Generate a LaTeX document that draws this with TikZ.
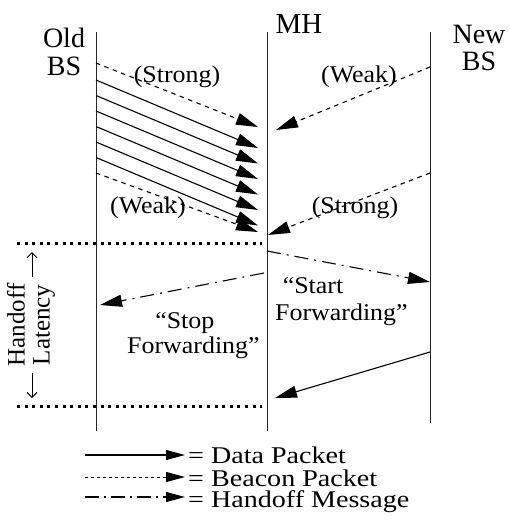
\documentclass[tikz,border=0pt]{standalone}
\usepackage{fontspec}
\setmainfont{Liberation Serif}
\usetikzlibrary{arrows.meta}
\tikzset{
  lbl/.style={font=\fontsize{24}{26}\selectfont, inner sep=0pt, xscale=1.08},
  leg/.style={font=\fontsize{24}{24}\selectfont, inner sep=0pt, xscale=1.17, text depth=0pt, text height=16.5pt},
  hdr/.style={font=\fontsize{28}{28}\selectfont, inner sep=0pt, align=center},
  life/.style={line width=0.9pt, black!85},
  tip/.style={-{Triangle[length=22pt,width=12pt]}},
  ltip/.style={-{Triangle[length=19pt,width=10pt]}},
  data/.style={tip, line width=1.1pt},
  beacon/.style={tip, line width=1.1pt, dash pattern=on 4.5pt off 4.5pt},
  lbeacon/.style={ltip, line width=1pt, dash pattern=on 2.5pt off 3.5pt},
  handoff/.style={tip, line width=1.1pt, dash pattern=on 14pt off 6pt on 2pt off 6pt},
  lhandoff/.style={ltip, line width=1.1pt, dash pattern=on 14pt off 5pt on 2pt off 5pt},
  thickdot/.style={line width=3pt, dash pattern=on 3pt off 4.6pt},
  latarrow/.style={-{Straight Barb[length=5pt,width=10pt]}, line width=0.9pt}
}
\begin{document}
\begin{tikzpicture}[x=1pt,y=-1pt]
\useasboundingbox (0,0) rectangle (509,525);
% lifelines
\coordinate (oldT) at (96,32); \coordinate (oldB) at (96,431);
\coordinate (mhT) at (267,32); \coordinate (mhB) at (267,431);
\coordinate (newT) at (430,32); \coordinate (newB) at (430,423);
\draw[life] (oldT) -- (oldB);
\draw[life] (mhT) -- (mhB);
\draw[life] (newT) -- (newB);
% headers (base anchor = last line's baseline)
\node[hdr, anchor=base] (oldlbl) at (64,75) {Old\\BS};
\node[hdr, anchor=base, font=\fontsize{29}{29}\selectfont] (mhlbl) at (299,33) {MH};
\node[hdr, anchor=base, font=\fontsize{28}{27}\selectfont] (newlbl) at (479,70) {New\\BS};
% beacons
\coordinate (b1s) at (96,63);  \coordinate (b1e) at (258,127);
\coordinate (b2s) at (430,67); \coordinate (b2e) at (276,130);
\coordinate (b3s) at (96,173); \coordinate (b3e) at (258,232);
\coordinate (b4s) at (430,173); \coordinate (b4e) at (268,235);
\draw[beacon] (b1s) -- (b1e);
\draw[beacon] (b2s) -- (b2e);
\draw[beacon] (b3s) -- (b3e);
\draw[beacon] (b4s) -- (b4e);
\node[lbl, anchor=base] (s1) at (177,82) {(Strong)};
\node[lbl, anchor=base] (w1) at (359,82) {(Weak)};
\node[lbl, anchor=base] (w2) at (148,213) {(Weak)};
\node[lbl, anchor=base] (s2) at (355,213) {(Strong)};
% data packets from old BS
\foreach \i/\y in {1/80,2/95.5,3/111,4/126.5,5/142,6/157.5}{
  \coordinate (d\i s) at (96,\y);
  \coordinate (d\i e) at (258,\y+68);
  \draw[data] (d\i s) -- (d\i e);
}
% handoff latency boundaries
\coordinate (h1a) at (17,243); \coordinate (h1b) at (262,243);
\coordinate (h2a) at (17,406); \coordinate (h2b) at (262,406);
\draw[thickdot] (h1a) -- (h1b);
\draw[thickdot] (h2a) -- (h2b);
\node[inner sep=0pt, rotate=90, align=center, font=\fontsize{25}{25}\selectfont] (lat) at (31,325) {Handoff\\Latency};
\coordinate (la1) at (32,277); \coordinate (la2) at (32,252);
\coordinate (la3) at (32,373); \coordinate (la4) at (32,398);
\draw[latarrow] (la1) -- (la2);
\draw[latarrow] (la3) -- (la4);
% handoff messages
\coordinate (m1s) at (267,251); \coordinate (m1e) at (430,282);
\coordinate (m2s) at (264,273); \coordinate (m2e) at (100,305);
\draw[handoff] (m1s) -- (m1e);
\draw[handoff] (m2s) -- (m2e);
\node[lbl, align=left, anchor=base west, font=\fontsize{24}{27}\selectfont] (start) at (275,320) {\hspace*{7pt}“Start\\Forwarding”};
\node[lbl, align=left, anchor=base west, font=\fontsize{24}{25}\selectfont] (stop) at (127,353) {\hspace*{26pt}“Stop\\Forwarding”};
% data from new BS
\coordinate (n1s) at (430,352); \coordinate (n1e) at (275,398);
\draw[data] (n1s) -- (n1e);
% legend
\coordinate (l1s) at (85,455); \coordinate (l1e) at (185,455);
\coordinate (l2s) at (85,477); \coordinate (l2e) at (185,477);
\coordinate (l3s) at (85,497); \coordinate (l3e) at (185,497);
\draw[ltip, line width=1.1pt] (l1s) -- (l1e);
\draw[lbeacon] (l2s) -- (l2e);
\draw[lhandoff] (l3s) -- (l3e);
\node[leg, anchor=base west] (t1) at (188,463) {= Data Packet};
\node[leg, anchor=base west] (t2) at (188,486) {= Beacon Packet};
\node[leg, anchor=base west] (t3) at (188,507) {= Handoff Message};
\end{tikzpicture}
\end{document}
